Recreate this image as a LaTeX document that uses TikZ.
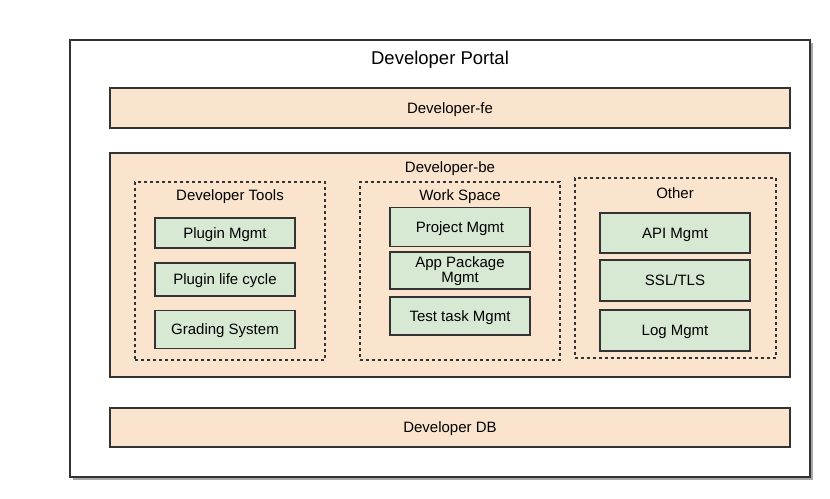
\documentclass[tikz,border=0pt]{standalone}
\usepackage{fontspec}
\setmainfont{Liberation Sans}
\usepackage{tikz}
\usetikzlibrary{positioning,calc,shadows}
\definecolor{peach}{HTML}{FBE4CD}
\definecolor{mint}{HTML}{D7E8D3}
\definecolor{edge}{HTML}{333333}
\tikzstyle{layer}=[draw=edge,fill=peach,line width=1.5pt,minimum width=680pt,inner sep=0pt,text height=10.6pt,text depth=0pt,font=\fontsize{15}{16}\selectfont]
\tikzstyle{module}=[draw=edge,fill=mint,line width=1.5pt,inner sep=0pt,align=center,text height=10.6pt,text depth=0pt,font=\fontsize{15}{13}\selectfont]
\tikzstyle{group}=[draw=edge,dash pattern=on 3pt off 3pt,line width=1.5pt,minimum width=190pt,minimum height=178pt,inner sep=0pt]

\begin{document}
\begin{tikzpicture}[x=1pt,y=-1pt]
\tikzstyle{caption}=[inner sep=0pt,text height=10.6pt,text depth=0pt,font=\fontsize{15}{16}\selectfont]
\useasboundingbox (0,0) rectangle (830,498);
    % outer frame
    \node [draw=edge,fill=white,line width=1.5pt,minimum width=740pt,minimum height=437pt,
      drop shadow={shadow xshift=3pt,shadow yshift=-3pt,fill=gray!70,opacity=1}] (portal) at (440,258.5) {};
    \node [caption,text height=13pt,font=\fontsize{18.5}{20}\selectfont] (title) at (440,58) {Developer Portal};
    % layers
    \node [layer,minimum height=40pt] (fe) at (450,108) {Developer-fe};
    \node [layer,minimum height=224pt] (be) at (450,265) {};
    \node [caption] (belabel) at (450,167) {Developer-be};
    \node [layer,minimum height=39pt] (db) at (450,427.5) {Developer DB};
    % groups
    \node [group] (tools) at (230,271) {};
    \node [caption] (toolslabel) at (230,195) {Developer Tools};
    \node [group,minimum width=200pt] (space) at (460,271) {};
    \node [caption] (spacelabel) at (460,195) {Work Space};
    \node [group,minimum width=201pt,minimum height=180pt] (other) at (675.5,268) {};
    \node [caption] (otherlabel) at (675,193) {Other};
    % modules
    \node [module,minimum width=140pt,minimum height=30pt] (plugin) at (225,233) {Plugin Mgmt};
    \node [module,minimum width=140pt,minimum height=33pt] (lifecycle) at (225,279.5) {Plugin life cycle};
    \node [module,minimum width=140pt,minimum height=38pt] (grading) at (225,329.5) {Grading System};
    \node [module,minimum width=140pt,minimum height=39pt] (project) at (460,227) {Project Mgmt};
    \node [module,minimum width=140pt,minimum height=37pt,text height=23.6pt] (package) at (460,270.5) {App Package\\Mgmt};
    \node [module,minimum width=140pt,minimum height=38pt] (testtask) at (460,316) {Test task Mgmt};
    \node [module,minimum width=150pt,minimum height=40pt] (api) at (675,233) {API Mgmt};
    \node [module,minimum width=150pt,minimum height=41pt] (ssl) at (675,280.5) {SSL/TLS};
    \node [module,minimum width=150pt,minimum height=41pt] (log) at (675,330.5) {Log Mgmt};
\end{tikzpicture}
\end{document}
